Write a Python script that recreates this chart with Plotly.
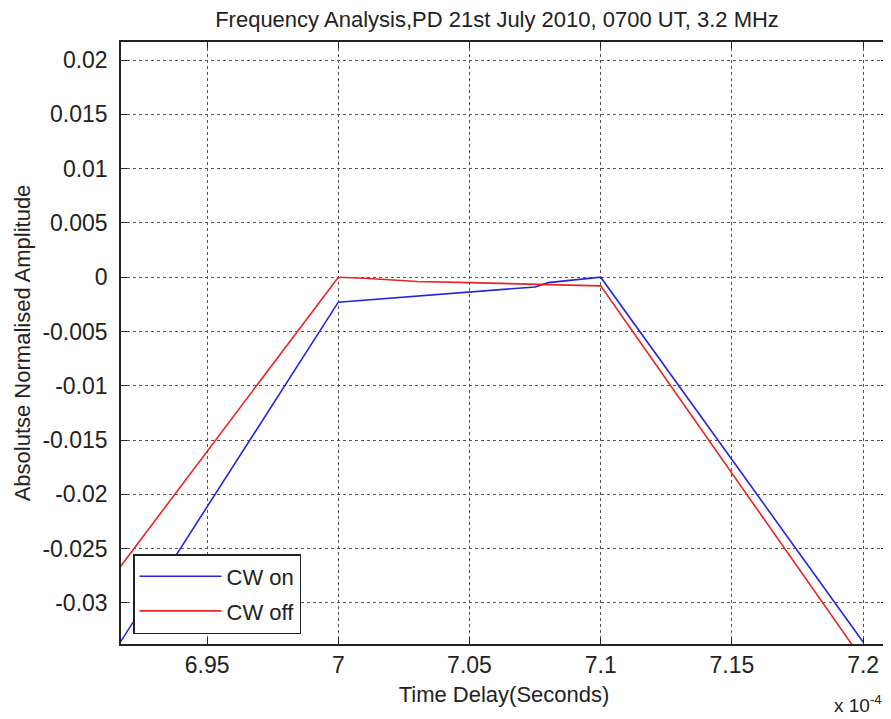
import plotly.graph_objects as go

# Time delay in units of 1e-4 seconds
cw_on_x = [6.9, 7.0, 7.075, 7.08, 7.1, 7.2]
cw_on_y = [-0.0400, -0.0023, -0.0009, -0.0005, 0.0000, -0.0336]

cw_off_x = [6.9, 7.0, 7.01, 7.03, 7.05, 7.1, 7.2]
cw_off_y = [-0.0321, 0.0000, -0.0001, -0.0004, -0.0005, -0.0008, -0.0353]

x_tickvals = [6.95, 7.0, 7.05, 7.1, 7.15, 7.2]
x_ticktext = ["6.95", "7", "7.05", "7.1", "7.15", "7.2"]
y_tickvals = [0.02, 0.015, 0.01, 0.005, 0, -0.005, -0.01, -0.015, -0.02, -0.025, -0.03]
y_ticktext = ["0.02", "0.015", "0.01", "0.005", "0", "-0.005", "-0.01", "-0.015", "-0.02", "-0.025", "-0.03"]

FONT = "Liberation Sans, Arial, sans-serif"
TXT = "#222222"

fig = go.Figure()
fig.add_trace(go.Scatter(x=cw_on_x, y=cw_on_y, mode="lines", name="CW on", legendgroup="on",
                         line=dict(color="#2525dd", width=1.6)))
fig.add_trace(go.Scatter(x=cw_off_x, y=cw_off_y, mode="lines", name="CW off", legendgroup="off",
                         line=dict(color="#ea2424", width=1.6)))

axis_common = dict(
    showline=True, linecolor="#222222", linewidth=1.5, mirror="ticks",
    ticks="inside", ticklen=6, tickcolor="#222222", tickwidth=1.2,
    showgrid=True, gridcolor="#555555", griddash="dot", gridwidth=1,
    zeroline=False, automargin=False,
    tickfont=dict(family=FONT, size=23, color=TXT),
)

fig.update_layout(
    width=883, height=711,
    margin=dict(l=113, r=4, t=34, b=75),
    paper_bgcolor="white", plot_bgcolor="white",
    title=dict(text="Frequency Analysis,PD 21st July 2010, 0700 UT, 3.2 MHz",
               font=dict(family=FONT, size=22, color=TXT),
               x=0.5538, xanchor="center", y=0.9955, yanchor="top", pad=dict(t=0)),
    xaxis=dict(range=[6.9172, 7.2091], tickvals=x_tickvals, ticktext=x_ticktext,
               title=dict(text="Time Delay(Seconds)", font=dict(family=FONT, size=22, color=TXT),
                          standoff=9),
               **axis_common),
    yaxis=dict(range=[-0.03378, 0.02166], tickvals=y_tickvals, ticktext=y_ticktext,
               ticklabelstandoff=7,
               title=dict(text="Absolutse Normalised Amplitude", font=dict(family=FONT, size=22, color=TXT),
                          standoff=6),
               **axis_common),
    legend=dict(x=0.0157, y=0.0166, xanchor="left", yanchor="bottom",
                bgcolor="white", bordercolor="#222222", borderwidth=1.5,
                font=dict(family=FONT, size=22, color=TXT), itemwidth=82,
                tracegroupgap=3),
    showlegend=True,
)

fig.add_annotation(text="x 10<sup>-4</sup>", xref="paper", yref="paper",
                   x=0.928, y=-0.0997, xanchor="left", yanchor="middle",
                   showarrow=False, font=dict(family=FONT, size=19, color=TXT))

fig.write_html("out.html")
